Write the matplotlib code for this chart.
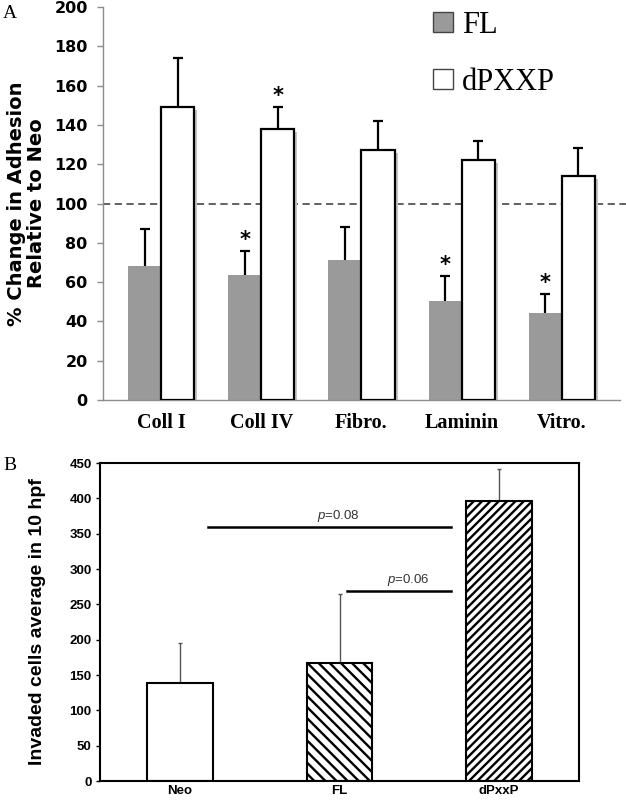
import matplotlib
matplotlib.use("Agg")
import matplotlib.pyplot as plt
import numpy as np
from matplotlib.patches import Patch
from matplotlib import font_manager

# ---------------- Data ----------------
substrates = ["Coll I", "Coll IV", "Fibro.", "Laminin", "Vitro."]
fl_vals = [68, 63.5, 71.5, 50.5, 44.5]
fl_err = [19, 12.5, 16.5, 12.5, 9.5]
dp_vals = [149, 138, 127, 122, 114]
dp_err = [25, 11, 15, 10, 14]
fl_star = [False, True, False, True, True]
dp_star = [False, True, False, False, False]

groups_b = ["Neo", "FL", "dPxxP"]
invaded = [138, 167, 396]
invaded_err = [57, 97, 46]
pval_labels = ["p=0.08", "p=0.06"]

plt.rcParams['mathtext.fontset'] = 'custom'
plt.rcParams['mathtext.it'] = 'Liberation Sans:italic'
plt.rcParams['mathtext.rm'] = 'Liberation Sans'
plt.rcParams['hatch.linewidth'] = 1.7

names = {f.name for f in font_manager.fontManager.ttflist}
narrow = "Liberation Sans Narrow" if "Liberation Sans Narrow" in names else "Liberation Sans"

W, H = 626, 801
fig = plt.figure(figsize=(W / 100, H / 100), dpi=100)

# ---------------- Panel A ----------------
axA = fig.add_axes([103 / W, 1 - 400 / H, (620 - 103) / W, (400 - 7) / H])
x = np.arange(len(substrates))
bw = 0.33
gray_axis = "#8c8c8c"

# shadows behind white bars
axA.bar(x + bw / 2 + 0.03, np.array(dp_vals) - 1.5, width=bw, color="#c4c4c4",
        edgecolor="none", zorder=1)
axA.bar(x - bw / 2, fl_vals, width=bw, color="#9a9a9a", edgecolor="none", zorder=2)
axA.bar(x + bw / 2, dp_vals, width=bw, color="white", edgecolor="black",
        linewidth=1.6, zorder=3)
for xs, vals, errs in [(x - bw / 2, fl_vals, fl_err), (x + bw / 2, dp_vals, dp_err)]:
    _, caps, _ = axA.errorbar(xs, vals, yerr=[np.zeros(len(x)), errs], fmt="none",
                              ecolor="black", elinewidth=1.6, capsize=3.8,
                              capthick=1.6, zorder=4)
    caps[0].set_visible(False)

for i in range(len(x)):
    if fl_star[i]:
        axA.text(x[i] - bw / 2, fl_vals[i] + fl_err[i] + 0.5, "*", ha="center",
                 va="bottom", fontsize=15, fontweight="bold", family="DejaVu Sans")
    if dp_star[i]:
        axA.text(x[i] + bw / 2, dp_vals[i] + dp_err[i] + 0.5, "*", ha="center",
                 va="bottom", fontsize=15, fontweight="bold", family="DejaVu Sans")

axA.axhline(100, xmin=0, xmax=1.012, color="#555555", linestyle=(0, (4, 2.5)),
            linewidth=1.3, clip_on=False, zorder=0)

axA.set_xlim(-0.58, 4.58)
axA.set_ylim(0, 200)
axA.set_yticks(np.arange(0, 201, 20))
axA.set_xticks(x)
axA.set_xticklabels(substrates, family="Liberation Serif", fontweight="bold",
                    fontsize=14.5)
for lab in axA.get_yticklabels():
    lab.set_family("DejaVu Sans")
    lab.set_fontweight("bold")
    lab.set_fontsize(11.5)
axA.tick_params(axis="y", length=4, color=gray_axis, width=1, pad=7)
axA.tick_params(axis="x", length=0, pad=9)
for s in ["top", "right"]:
    axA.spines[s].set_visible(False)
for s in ["left", "bottom"]:
    axA.spines[s].set_color(gray_axis)
    axA.spines[s].set_linewidth(1)

axA.set_ylabel("% Change in Adhesion\nRelative to Neo", family="DejaVu Sans",
               fontweight="bold", fontsize=14, linespacing=1.1, labelpad=6)

handles = [Patch(facecolor="#9a9a9a", edgecolor="#444444", linewidth=1, label="FL"),
           Patch(facecolor="white", edgecolor="#444444", linewidth=1, label="dPXXP")]
axA.legend(handles=handles, loc="upper left", bbox_to_anchor=(433 / W, 1 - 11 / H),
           bbox_transform=fig.transFigure, frameon=False,
           prop={"family": "Liberation Serif", "size": 22},
           handlelength=0.65, handleheight=0.65, handletextpad=0.3,
           labelspacing=0.9, borderpad=0, borderaxespad=0)

fig.text(3 / W, 1 - 18 / H, "A", family="Liberation Serif", fontsize=14)

# ---------------- Panel B ----------------
axB = fig.add_axes([100 / W, 1 - 781 / H, (579 - 100) / W, (781 - 463) / H])
xb = np.arange(len(groups_b))
bwb = 0.41
hatches = ["", "\\\\\\", "////"]
for i in range(len(xb)):
    axB.bar(xb[i], invaded[i], width=bwb, color="white", edgecolor="black",
            linewidth=1.5, hatch=hatches[i], zorder=2)
axB.errorbar(xb, invaded, yerr=[np.zeros(len(xb)), invaded_err], fmt="none",
             ecolor="#555555", elinewidth=1, capsize=1.5, capthick=1, zorder=1)

# significance lines
axB.plot([0.174, 1.70], [360, 360], color="black", linewidth=1.8)
axB.plot([1.05, 1.70], [269, 269], color="black", linewidth=1.8)
axB.text(0.99, 364, "$p$=0.08", ha="center", va="bottom", fontsize=9.5,
         family="Liberation Sans", color="#333333")
axB.text(1.43, 273, "$p$=0.06", ha="center", va="bottom", fontsize=9.5,
         family="Liberation Sans", color="#333333")

axB.set_xlim(-0.5, 2.5)
axB.set_ylim(0, 450)
axB.set_yticks(np.arange(0, 451, 50))
axB.set_xticks(xb)
axB.set_xticklabels(groups_b, family=narrow, fontweight="bold", fontsize=9.5)
for lab in axB.get_yticklabels():
    lab.set_family(narrow)
    lab.set_fontweight("bold")
    lab.set_fontsize(9.5)
axB.tick_params(axis="y", length=3, width=1, pad=3)
axB.tick_params(axis="x", length=0, pad=3)
for s in axB.spines.values():
    s.set_linewidth(1.5)
axB.set_ylabel("Invaded cells average in 10 hpf", family="Liberation Sans",
               fontweight="bold", fontsize=14, labelpad=17)

fig.text(3 / W, 1 - 470 / H, "B", family="Liberation Serif", fontsize=14)

fig.savefig("out.png", dpi=100)
